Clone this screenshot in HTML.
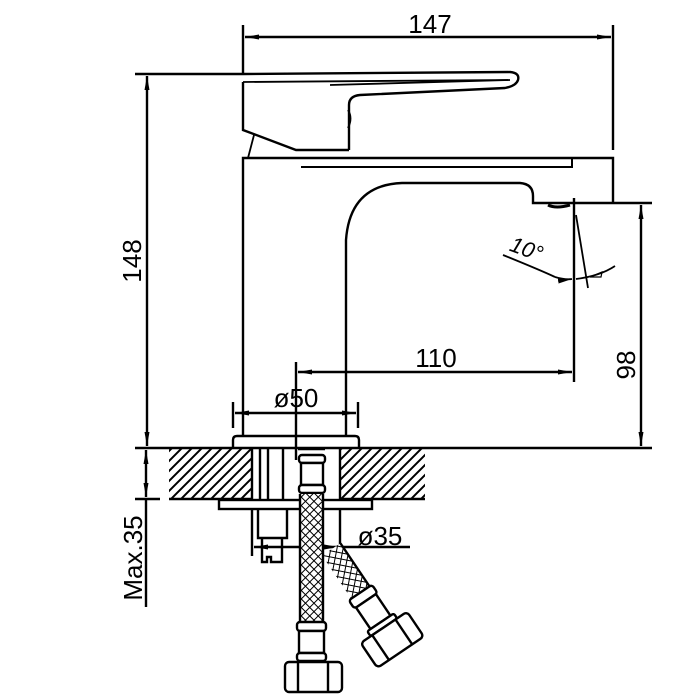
<!DOCTYPE html>
<html><head><meta charset="utf-8"><style>
html,body{margin:0;padding:0;background:#fff;}
svg{display:block;}
text{font-family:"Liberation Sans",sans-serif;fill:#000;}
</style></head><body>
<svg width="700" height="700" viewBox="0 0 700 700" xmlns="http://www.w3.org/2000/svg">
<defs>
<pattern id="hatch" width="10" height="10" patternUnits="userSpaceOnUse">
<path d="M0,10 L10,0 M-3,3 L3,-3 M7,13 L13,7" stroke="#000" stroke-width="2"/>
</pattern>
<pattern id="mesh" width="6" height="6" patternUnits="userSpaceOnUse" patternTransform="rotate(45)">
<rect width="6" height="6" fill="#fff"/>
<line x1="0" y1="0" x2="0" y2="6" stroke="#000" stroke-width="2"/>
<line x1="0" y1="0" x2="6" y2="0" stroke="#000" stroke-width="2"/>
</pattern>
<marker id="ar" markerWidth="14" markerHeight="8" refX="14" refY="4" orient="auto" markerUnits="userSpaceOnUse">
<path d="M0,1.5 L14,4 L0,6.5 Z" fill="#000"/>
</marker>
</defs>
<g stroke="#000" stroke-width="2.4" fill="none">
<line x1="243" y1="25" x2="243" y2="75"/>
<line x1="613" y1="25" x2="613" y2="150"/>
<line x1="430" y1="37" x2="245" y2="37" marker-end="url(#ar)"/>
<line x1="430" y1="37" x2="611" y2="37" marker-end="url(#ar)"/>
<line x1="135" y1="74" x2="243" y2="74"/>
<line x1="147" y1="260" x2="147" y2="76" marker-end="url(#ar)"/>
<line x1="147" y1="260" x2="147" y2="446" marker-end="url(#ar)"/>
<path d="M243,74 L510,72 Q520,73 518,80 Q516,86 505,88 L360,95 Q349,96 349,105 L349,150"/>
<path d="M243,82 L243,130 L296,150 L349,150"/>
<path d="M243,82 L508,80" stroke-width="1.8"/>
<path d="M330,85 L510,80" stroke-width="1.8"/>
<path d="M348,110 Q353,118 348,128" stroke-width="1.8"/>
<path d="M254,135 L248,158" stroke-width="1.8"/>
<path d="M243,437 L243,158 L613,158 L613,203"/>
<path d="M301,167 L572,167 L572,158" stroke-width="2"/>
<path d="M346,437 L346,240 Q350,185 402,183 L520,183 Q533,184 533,196 L533,203 L652,203"/>
<path d="M548,205 Q556,209 570,205" stroke-width="3"/>
<path d="M574,198 L574,382"/>
<path d="M576,215 L588,288" stroke-width="1.8"/>
<path d="M503,255 Q540,270 555,277" stroke-width="1.8"/>
<path d="M555,277 Q565,280 572,279" stroke-width="1.8" marker-end="url(#ar)"/>
<path d="M576,279 Q600,276 615,266" stroke-width="1.8"/>
<path d="M590,277 L602,272 L601,277 Z" stroke-width="1.2"/>
<line x1="641" y1="320" x2="641" y2="205" marker-end="url(#ar)"/>
<line x1="641" y1="320" x2="641" y2="446" marker-end="url(#ar)"/>
<line x1="296" y1="362" x2="296" y2="460"/>
<line x1="430" y1="372" x2="298" y2="372" marker-end="url(#ar)"/>
<line x1="430" y1="372" x2="572" y2="372" marker-end="url(#ar)"/>
<line x1="233" y1="402" x2="233" y2="428"/>
<line x1="358" y1="402" x2="358" y2="428"/>
<line x1="296" y1="413" x2="235" y2="413" marker-end="url(#ar)"/>
<line x1="296" y1="413" x2="356" y2="413" marker-end="url(#ar)"/>
<path d="M233,448 L233,440 Q233,436 237,436 L355,436 Q359,436 359,440 L359,448"/>
<line x1="135" y1="448" x2="652" y2="448"/>
<rect x="169" y="449" width="83" height="50" fill="url(#hatch)" stroke="none"/>
<rect x="340" y="449" width="85" height="50" fill="url(#hatch)" stroke="none"/>
<line x1="169" y1="499" x2="252" y2="499"/>
<line x1="340" y1="499" x2="425" y2="499"/>
<line x1="252" y1="449" x2="252" y2="499"/>
<line x1="340" y1="449" x2="340" y2="499"/>
<line x1="135" y1="499" x2="160" y2="499"/>
<line x1="146" y1="470" x2="146" y2="450" marker-end="url(#ar)"/>
<line x1="146" y1="470" x2="146" y2="497" marker-end="url(#ar)"/>
<line x1="146" y1="499" x2="146" y2="607"/>
<rect x="219" y="500" width="153" height="9"/>
<line x1="260" y1="449" x2="260" y2="500"/>
<line x1="268" y1="449" x2="268" y2="500"/>
<line x1="283" y1="449" x2="283" y2="500"/>
<path d="M258,509 L258,538 L287,538 L287,509"/>
<path d="M262,538 L262,562 L267,562 L267,557 L271,557 L271,562 L282,562 L282,538"/>
<line x1="252" y1="510" x2="252" y2="556"/>
<line x1="340" y1="510" x2="340" y2="556"/>
<line x1="300" y1="547" x2="254" y2="547" marker-end="url(#ar)"/>
<line x1="300" y1="547" x2="338" y2="547" marker-end="url(#ar)"/>
<line x1="340" y1="547" x2="410" y2="547"/>
<g transform="translate(323,555) rotate(-34)">
<rect x="-1" y="0" width="22" height="52" fill="url(#mesh)" stroke="none"/>
<path d="M21,0 L21,52"/>
<rect x="-4" y="52" width="28" height="10" rx="3" fill="#fff"/>
<rect x="-2" y="62" width="24" height="26" fill="#fff"/>
<rect x="-6" y="88" width="32" height="6" rx="2" fill="#fff"/>
<rect x="-18" y="94" width="56" height="30" rx="4" fill="#fff"/>
<line x1="-4" y1="94" x2="-4" y2="124"/>
<line x1="24" y1="94" x2="24" y2="124"/>
</g>
<path d="M298,449 L325,449"/>
<rect x="299" y="455" width="26" height="8" rx="3" fill="#fff"/>
<rect x="301" y="463" width="22" height="22" fill="#fff"/>
<rect x="299" y="485" width="26" height="8" rx="3" fill="#fff"/>
<rect x="300" y="494" width="23" height="128" fill="url(#mesh)" stroke="none"/>
<line x1="300" y1="494" x2="300" y2="622"/>
<line x1="323" y1="494" x2="323" y2="622"/>
<rect x="297" y="622" width="29" height="9" rx="3" fill="#fff"/>
<rect x="299" y="631" width="25" height="22" fill="#fff"/>
<rect x="297" y="653" width="29" height="8" rx="3" fill="#fff"/>
<rect x="285" y="662" width="57" height="30" rx="4" fill="#fff"/>
<line x1="298" y1="662" x2="298" y2="692"/>
<line x1="328" y1="662" x2="328" y2="692"/>
</g>
<text x="430" y="33" font-size="26" text-anchor="middle">147</text>
<text x="436" y="367" font-size="26" text-anchor="middle">110</text>
<text x="296" y="407" font-size="26" text-anchor="middle">ø50</text>
<text x="380" y="545" font-size="26" text-anchor="middle">ø35</text>
<text transform="translate(141,261) rotate(-90)" font-size="26" text-anchor="middle">148</text>
<text transform="translate(635,365) rotate(-90)" font-size="26" text-anchor="middle">98</text>
<text transform="translate(142,558) rotate(-90)" font-size="26" text-anchor="middle">Max.35</text>
<text transform="translate(524,256) rotate(20)" font-size="22" text-anchor="middle" font-style="italic">10°</text>
</svg>
</body></html>
